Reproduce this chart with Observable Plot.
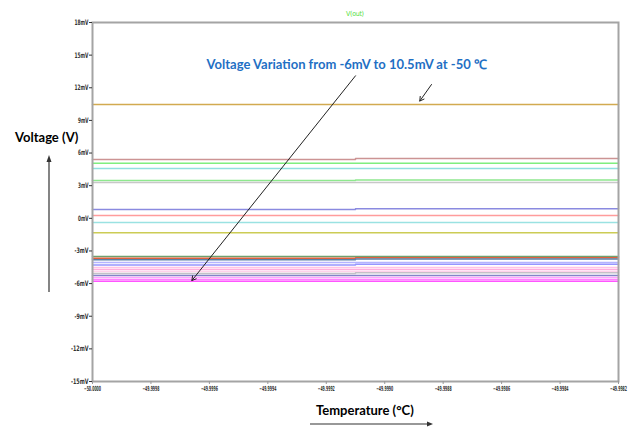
<!DOCTYPE html>
<html><head><meta charset="utf-8">
<script src="https://cdn.jsdelivr.net/npm/d3@7"></script>
<script src="https://cdn.jsdelivr.net/npm/@observablehq/plot@0.6"></script>
<style>
body{margin:0;background:#fff;}
#wrap{position:relative;width:634px;height:428px;overflow:hidden;background:#fff;}
.lbl{position:absolute;font-family:Lato,"Open Sans",sans-serif;font-weight:bold;font-size:13px;color:#000;white-space:nowrap;line-height:1;}
#vout{position:absolute;left:346px;top:10px;font-family:"DejaVu Sans Condensed","Liberation Sans Narrow",sans-serif;font-size:7px;color:#55e040;letter-spacing:-0.3px;}
svg.deco{position:absolute;left:0;top:0;pointer-events:none;}
</style></head><body>
<div id="wrap"></div>
<script>
// time points (°C) for each trace: start, small step, end
const tStart = -50, tStep = -49.9991, tEnd = -49.9982;
// trace values in mV before and after the step
const vBefore = [10.46, 5.40, 5.06, 4.58, 3.47, 3.29, 0.81, 0.26, -0.39, -1.33,
  -3.52, -3.66, -3.80, -4.06, -4.29, -4.52, -4.71, -4.89, -5.07, -5.26, -5.44, -5.62, -5.78];
const vAfter  = [10.46, 5.49, 5.06, 4.58, 3.53, 3.29, 0.88, 0.26, -0.39, -1.33,
  -3.50, -3.62, -3.75, -4.06, -4.22, -4.52, -4.71, -4.89, -5.00, -5.26, -5.44, -5.62, -5.78];
const colors = ["#d2aa50", "#cc9494", "#7fee7f", "#90e0e0", "#8ee88e", "#c8c8c8", "#8a8ae0", "#ff9c9c", "#9ae2e2", "#cccc55",
  "#6ea06e", "#e0603e", "#5a7fa6", "#b4b4ff", "#9696ff", "#ffc4e4", "#ffaede", "#ffd2ea", "#c4c0c8", "#8484c8", "#ffa4ff", "#ff84ff", "#ff55ff"];
const xTicks = [-50.0000, -49.9998, -49.9996, -49.9994, -49.9992, -49.9990, -49.9988, -49.9986, -49.9984, -49.9982];
const yTicks = [18, 15, 12, 9, 6, 3, 0, -3, -6, -9, -12, -15];
const annotText = "Voltage Variation from -6mV to 10.5mV at -50 \u2103";
const annotPos = {x: -49.99913, y: 14.1};
const annotArrows = [
  {x1: -49.99910, y1: 13.1, x2: -49.99966, y2: -5.72},
  {x1: -49.99884, y1: 12.3, x2: -49.99888, y2: 10.78}
];

const traces = [];
vBefore.forEach((v, i) => {
  traces.push({id: i, t: tStart, v: v});
  traces.push({id: i, t: tStep, v: vAfter[i]});
  traces.push({id: i, t: tEnd, v: vAfter[i]});
});

const plot = Plot.plot({
  width: 634, height: 428,
  marginLeft: 92, marginRight: 16, marginTop: 22, marginBottom: 47,
  style: {fontFamily: "'DejaVu Sans Condensed','Liberation Sans Narrow',sans-serif", fontSize: "7.5px", color: "#333", background: "#fff"},
  x: {domain: [-50, -49.9982], ticks: xTicks, tickFormat: d3.format(".4f")},
  y: {domain: [-15, 18], ticks: yTicks, tickFormat: d => d + "mV"},
  marks: [
    Plot.line(traces, {x: "t", y: "v", z: "id", stroke: d => colors[d.id], strokeWidth: 1.5, curve: "step-after"}),
    Plot.frame({stroke: "#a4a4a4", strokeWidth: 2}),
    Plot.axisX({ticks: xTicks, tickFormat: d3.format(".4f"), tickSize: 3, tickPadding: 2, label: null, stroke: "#999", fontSize: 7}),
    Plot.axisY({ticks: yTicks, tickFormat: d => d + "mV", tickSize: 3, tickPadding: 1, label: null}),
    Plot.arrow(annotArrows, {x1: "x1", y1: "y1", x2: "x2", y2: "y2", stroke: "#222", strokeWidth: 1, headLength: 7}),
    Plot.text([annotPos], {x: "x", y: "y", text: () => annotText, fill: "#1f70c4", fontWeight: "bold", fontSize: 13, fontFamily: "Lato,'Open Sans',sans-serif"})
  ]
});

const svg = d3.select(plot);
svg.selectAll('g[aria-label="x-axis tick label"] text').attr("textLength", 17).attr("lengthAdjust", "spacingAndGlyphs").attr("font-weight", "bold");
svg.selectAll('g[aria-label="y-axis tick label"] text').each(function() {
  const t = d3.select(this);
  const n = t.text().length;
  t.attr("textLength", n * 3.5).attr("lengthAdjust", "spacingAndGlyphs").attr("font-weight", "bold");
});

const wrap = document.getElementById("wrap");
wrap.appendChild(plot);

const vout = document.createElement("div"); vout.id = "vout"; vout.textContent = "V(out)"; wrap.appendChild(vout);

const yl = document.createElement("div"); yl.className = "lbl"; yl.textContent = "Voltage (V)";
yl.style.left = "15px"; yl.style.top = "131px"; wrap.appendChild(yl);
const xl = document.createElement("div"); xl.className = "lbl"; xl.textContent = "Temperature (\u00B0C)";
xl.style.left = "316px"; xl.style.top = "404px"; wrap.appendChild(xl);

const ns = "http://www.w3.org/2000/svg";
const deco = document.createElementNS(ns, "svg");
deco.setAttribute("class", "deco"); deco.setAttribute("width", 634); deco.setAttribute("height", 428);
deco.innerHTML = `
<line x1="49" y1="292" x2="49" y2="160" stroke="#333" stroke-width="1.2"/>
<path d="M46.5,162 L49,155 L51.5,162 Z" fill="#333"/>
<line x1="310" y1="424" x2="428" y2="424" stroke="#333" stroke-width="1.2"/>
<path d="M427,421.5 L433,424 L427,426.5 Z" fill="#333"/>`;
wrap.appendChild(deco);
</script>
</body></html>
